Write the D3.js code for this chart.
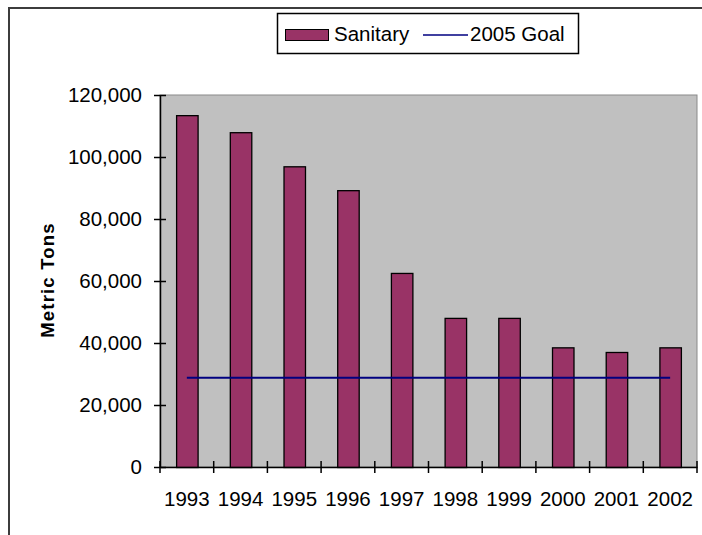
<!DOCTYPE html>
<html>
  <head>
    <meta charset="utf-8">
    <title>Sanitary tons</title>
    <script src="https://d3js.org/d3.v7.min.js"></script>
    <style>
      body { margin: 0; background: #fff; }
      text { font-family: "Liberation Sans", Arial, sans-serif; fill: #000; }
    </style>
  </head>
  <body>

  <script type="text/javascript">
    // data
    var years = ['1993','1994','1995','1996','1997','1998','1999','2000','2001','2002'];
    var sanitary = [113500, 108000, 97000, 89300, 62600, 48100, 48100, 38600, 37100, 38600];
    var goal = [28800, 28800, 28800, 28800, 28800, 28800, 28800, 28800, 28800, 28800];
    var yTicks = [0, 20000, 40000, 60000, 80000, 100000, 120000];

    var W = 702, H = 535;
    var plot = {left: 160, top: 95, right: 697, bottom: 467};
    var fs = '20.5px';

    var svg = d3.select('body')
                .append('svg')
                .attr('width', W)
                .attr('height', H);

    /* chart area frame, runs off the right and bottom edge */
    svg.append('rect')
       .attr('x', 9).attr('y', 8)
       .attr('width', 800).attr('height', 700)
       .attr('fill', '#fff')
       .attr('stroke', '#3c3c3c')
       .attr('stroke-width', 2);

    var x = d3.scaleBand()
              .domain(years)
              .range([plot.left, plot.right])
              .paddingInner(0.6)
              .paddingOuter(0.3);
    var xb = d3.scaleBand().domain(years).range([plot.left, plot.right]);
    var y = d3.scaleLinear()
              .domain([0, 120000])
              .range([plot.bottom, plot.top]);

    svg.append('rect')
       .attr('x', plot.left).attr('y', plot.top)
       .attr('width', plot.right - plot.left)
       .attr('height', plot.bottom - plot.top)
       .attr('fill', '#c0c0c0')
       .attr('stroke', '#8a8a8a')
       .attr('stroke-width', 1);

    svg.selectAll('rect.bar')
       .data(sanitary)
       .enter()
       .append('rect')
       .attr('class', 'bar')
       .attr('x', function(d, i){ return x(years[i]) + 0.5 })
       .attr('y', function(d){ return y(d) + 0.5 })
       .attr('width', x.bandwidth())
       .attr('height', function(d){ return y(0) - y(d) })
       .attr('fill', '#993366')
       .attr('stroke', '#000')
       .attr('stroke-width', 1.3);

    var line = d3.line()
                 .x(function(d, i){ return xb(years[i]) + xb.bandwidth() / 2 })
                 .y(function(d){ return y(d) });
    svg.append('path')
       .datum(goal)
       .attr('d', line)
       .attr('fill', 'none')
       .attr('stroke', '#000080')
       .attr('stroke-width', 2);

    /* y axis */
    var yAxis = svg.append('g')
       .attr('transform', 'translate(' + plot.left + ',0)')
       .call(d3.axisLeft(y).tickValues(yTicks).tickFormat(d3.format(',')).tickSizeOuter(0).tickPadding(12));
    yAxis.select('.domain').attr('stroke', '#000').attr('stroke-width', 1.5);
    yAxis.selectAll('.tick line').attr('x1', 6).attr('stroke-width', 1.5);
    yAxis.selectAll('.tick text').style('font-size', fs).attr('fill', '#000');

    /* x axis: labels centred, ticks between categories */
    var xAxis = svg.append('g')
       .attr('transform', 'translate(0,' + plot.bottom + ')')
       .call(d3.axisBottom(xb).tickSize(0).tickPadding(24));
    xAxis.select('.domain').attr('stroke', '#000').attr('stroke-width', 1.5);
    xAxis.selectAll('.tick text').style('font-size', fs).attr('fill', '#000');
    var edges = years.map(function(d){ return xb(d) }).concat([xb.range()[1]]);
    xAxis.selectAll('line.sep')
       .data(edges)
       .enter()
       .append('line')
       .attr('class', 'sep')
       .attr('x1', function(d){ return d }).attr('x2', function(d){ return d })
       .attr('y1', -6).attr('y2', 6)
       .attr('stroke', '#000')
       .attr('stroke-width', 1.5);

    svg.append('text')
       .attr('transform', 'translate(54,280) rotate(-90)')
       .attr('text-anchor', 'middle')
       .style('font-size', '18.5px')
       .style('font-weight', 'bold')
       .style('letter-spacing', '1.2px')
       .text('Metric Tons');

    /* legend */
    var lg = svg.append('g');
    lg.append('rect')
      .attr('x', 277.5).attr('y', 13.5)
      .attr('width', 301).attr('height', 40)
      .attr('fill', '#fff')
      .attr('stroke', '#000')
      .attr('stroke-width', 1.5);
    lg.append('rect')
      .attr('x', 285.5).attr('y', 29.5)
      .attr('width', 43).attr('height', 11)
      .attr('fill', '#993366')
      .attr('stroke', '#000');
    lg.append('text')
      .attr('x', 334).attr('y', 41)
      .style('font-size', fs)
      .text('Sanitary');
    lg.append('line')
      .attr('x1', 423).attr('x2', 468)
      .attr('y1', 35).attr('y2', 35)
      .attr('stroke', '#000080')
      .attr('stroke-width', 1.5);
    lg.append('text')
      .attr('x', 470).attr('y', 41)
      .style('font-size', fs)
      .text('2005 Goal');
  </script>
  </body>
</html>
